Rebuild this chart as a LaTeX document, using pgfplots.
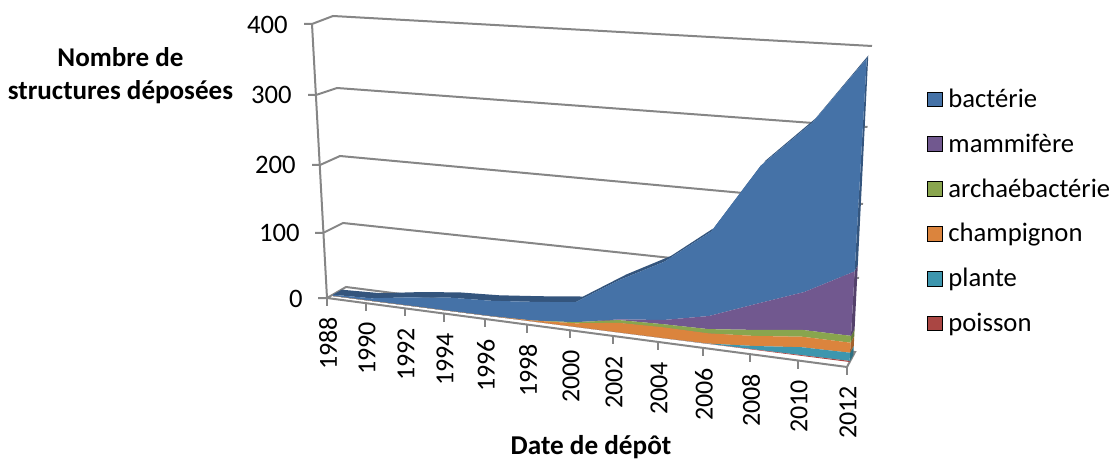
\documentclass[border=0pt]{standalone}
\usepackage{fontspec}
\setmainfont{Carlito}
\usepackage{pgfplots}
\usepackage{pgfplotstable}
\pgfplotsset{compat=1.18}
\usepgfplotslibrary{fillbetween}
\definecolor{cBact}{HTML}{4572A7}
\definecolor{cMam}{HTML}{71588F}
\definecolor{cArch}{HTML}{89A54E}
\definecolor{cCh}{HTML}{DB843D}
\definecolor{cPl}{HTML}{3D96AE}
\definecolor{cPo}{HTML}{AA4643}
\definecolor{dBact}{HTML}{34557D}
\definecolor{dMam}{HTML}{54416B}
\definecolor{dArch}{HTML}{667B3A}
\definecolor{dCh}{HTML}{A3622D}
\definecolor{dPl}{HTML}{2D7082}
\definecolor{gridc}{HTML}{868686}
% deposited structures per year, one column per organism
\pgfplotstableread{
year poisson plante champignon archae mammif bact
1988 0 0 0 0 0 2
1990 0 0 0 0 0 4
1992 0 0 0 0 0 13
1994 0 0 0 0 0 20
1996 0 0 0 0 0 23
1998 0 0 1.5 0 0 27.5
2000 0 0 5.4 1.6 0 29
2002 0 0 14 4 1 56
2004 0 0 15.6 4.4 6 82
2006 0.2 0.3 14.5 6 18.5 116.5
2008 0.6 4.8 14.1 8.5 36 186
2010 1 11 14.6 9.4 52 222
2012 1.5 11.3 13.8 9.4 87 271
}\data
% perspective of the chart: front and back planes of the stacked areas
\newcommand\Xf[2]{((418.44*(#1)-32.66*(#2)+333)/(1-0.11543*(#1)-0.05552*(#2)))}
\newcommand\Yf[2]{((24.21*(#1)-275.69*(#2)+296)/(1-0.11543*(#1)-0.05552*(#2)))}
\newcommand\Xb[2]{((419.75*(#1)-29.81*(#2)+342)/(1-0.10729*(#1)-0.04995*(#2)))}
\newcommand\Yb[2]{((25.91*(#1)-274.18*(#2)+291)/(1-0.10729*(#1)-0.04995*(#2)))}
\def\T{((\thisrow{year}-1988)/24)}
\def\Lz{0}
\def\La{((\thisrow{poisson})/400)}
\def\Lb{((\thisrow{poisson}+\thisrow{plante})/400)}
\def\Lc{((\thisrow{poisson}+\thisrow{plante}+\thisrow{champignon})/400)}
\def\Ld{((\thisrow{poisson}+\thisrow{plante}+\thisrow{champignon}+\thisrow{archae})/400)}
\def\Le{((\thisrow{poisson}+\thisrow{plante}+\thisrow{champignon}+\thisrow{archae}+\thisrow{mammif})/400)}
\def\Lf{((\thisrow{poisson}+\thisrow{plante}+\thisrow{champignon}+\thisrow{archae}+\thisrow{mammif}+\thisrow{bact})/400)}
\newcommand\edge[2]{\addplot[draw=none,forget plot,name path=#1] table[x expr={\Xf{\T}{#2}},y expr={\Yf{\T}{#2}}] {\data};}
\newcommand\band[3]{\addplot[#3,draw=none,forget plot] fill between[of=#1 and #2,on layer=main];}
\newcommand\sideface[3]{\addplot[fill=#1,draw=none,forget plot] table[row sep=\\,
  x expr={(1-\thisrow{p})*\Xf{1}{\thisrow{v}/400}+\thisrow{p}*\Xb{1}{\thisrow{v}/400}},
  y expr={(1-\thisrow{p})*\Yf{1}{\thisrow{v}/400}+\thisrow{p}*\Yb{1}{\thisrow{v}/400}}]
  {p v\\ 0 #2\\ 0 #3\\ 1 #3\\ 1 #2\\ 0 #2\\};}
\begin{document}
\begin{tikzpicture}
\begin{axis}[
  at={(0,0)},anchor=south west,
  scale only axis,width=834.75pt,height=345.75pt,
  xmin=0,xmax=1113,ymin=0,ymax=461,y dir=reverse,
  axis lines=none,clip=false,
  legend image code/.code={\fill[#1] (0pt,-5.6pt) rectangle (11.3pt,5.6pt);},
  legend style={draw=none,fill=none,at={(axis cs:926.5,89)},anchor=north west,
    font=\fontsize{20}{24}\selectfont,inner sep=0pt,outer sep=0pt,
    row sep=18.25pt,nodes={inner xsep=4.75pt,inner ysep=0pt,anchor=west}},
  legend cell align=left,
]
% walls and floor
\addplot[gridc,line width=1.5pt,forget plot] coordinates {(304,24)(312,24)(333,16)(872,46)};
\addplot[gridc,line width=1.5pt,forget plot] coordinates {(308,95)(316,95)(337,88)(867.5,127)};
\addplot[gridc,line width=1.5pt,forget plot] coordinates {(312,165)(320,165)(340,156)(863,204)};
\addplot[gridc,line width=1.5pt,forget plot] coordinates {(315,233)(323,233)(343,223)(859,278)};
\addplot[gridc,line width=1.5pt,forget plot] coordinates {(318,298)(327,298)(346,287)(855,352)(847,367)(327,298)};
\addplot[gridc,line width=1.5pt,forget plot] coordinates {(312,24)(327,298)};
\foreach \x/\y in {327/298,366/303.2,405/308.4,444/313.5,485/319,527/324.5,570/330.2,613/336,658/342,703/348,750/354.2,798/360.6,847/367}{
  \edef\temp{\noexpand\draw[gridc,line width=1.5pt] (axis cs:\x,\y) -- (axis cs:\x,\y+8);}\temp
}
% top and right faces
\addplot[draw=none,forget plot,name path=topf] table[x expr={\Xf{\T}{\Lf}},y expr={\Yf{\T}{\Lf}}] {\data};
\addplot[draw=none,forget plot,name path=topb] table[x expr={\Xb{\T}{\Lf}},y expr={\Yb{\T}{\Lf}}] {\data};
\band{topf}{topb}{fill=dBact}
\sideface{dPl}{0}{12.8}
\sideface{dCh}{12.8}{26.6}
\sideface{dArch}{26.6}{36}
\sideface{dMam}{36}{123}
\sideface{dBact}{123}{394}
% front faces
\edge{lz}{\Lz}\edge{la}{\La}\edge{lb}{\Lb}\edge{lc}{\Lc}\edge{ld}{\Ld}\edge{le}{\Le}\edge{lf}{\Lf}
\band{lf}{le}{fill=cBact}
\band{le}{ld}{fill=cMam}
\band{ld}{lc}{fill=cArch}
\band{lc}{lb}{fill=cCh}
\band{lb}{la}{fill=cPl}
\band{la}{lz}{fill=cPo}
% legend
\addlegendimage{fill=cBact}\addlegendentry{bactérie}
\addlegendimage{fill=cMam}\addlegendentry{mammifère}
\addlegendimage{fill=cArch}\addlegendentry{archaébactérie}
\addlegendimage{fill=cCh}\addlegendentry{champignon}
\addlegendimage{fill=cPl}\addlegendentry{plante}
\addlegendimage{fill=cPo}\addlegendentry{poisson}
% tick labels
\foreach \v/\x/\y in {400/288/25,300/292/95,200/296/165,100/300/233,0/303/299}{
  \edef\temp{\noexpand\node[anchor=east,inner sep=0pt,font=\noexpand\fontsize{20}{22}\noexpand\selectfont] at (axis cs:\x,\y) {\v};}\temp
}
\foreach \lab/\x/\y in {1988/328/317,1990/367/322,1992/406/328,1994/445/333,1996/486/339,1998/528/344,2000/571/350,2002/614/356,2004/659/362,2006/704/368,2008/751/374,2010/799/380,2012/848/386}{
  \edef\temp{\noexpand\node[rotate=90,anchor=east,inner sep=0pt,font=\noexpand\fontsize{19.5}{22}\noexpand\selectfont] at (axis cs:\x,\y) {\lab};}\temp
}
% titles
\node[font=\fontsize{20.3}{24.7}\selectfont\bfseries,align=center,inner sep=0pt] at (axis cs:120.5,75.5) {Nombre de\\structures déposées};
\node[font=\fontsize{20.4}{24}\selectfont\bfseries,inner sep=0pt] at (axis cs:591,447.5) {Date de dépôt};
\end{axis}
\pgfresetboundingbox
\path[use as bounding box] (0,0) rectangle (834.75pt,345.75pt);
\end{tikzpicture}
\end{document}
